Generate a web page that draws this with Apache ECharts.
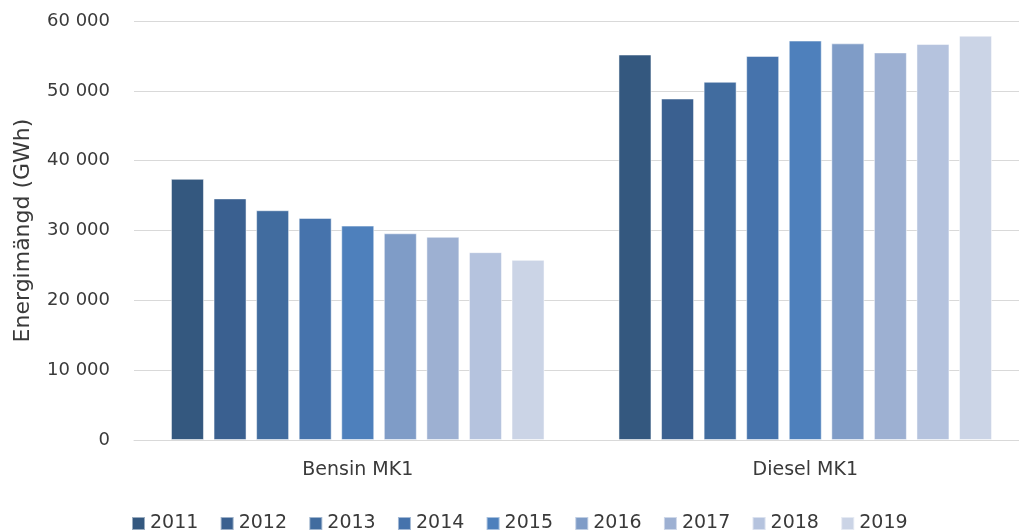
<!DOCTYPE html>
<html><head><meta charset="utf-8">
<script src="https://cdn.jsdelivr.net/npm/echarts@6/dist/echarts.min.js"></script>
<style>html,body{margin:0;padding:0;background:#fff}#c{width:1019px;height:532px}</style>
</head><body><div id="c"></div>
<script>
const categories = ['Bensin MK1', 'Diesel MK1'];
const years = ['2011','2012','2013','2014','2015','2016','2017','2018','2019'];
const v2011 = [37400, 55200];
const v2012 = [34600, 48900];
const v2013 = [32900, 51300];
const v2014 = [31800, 55000];
const v2015 = [30700, 57200];
const v2016 = [29600, 56800];
const v2017 = [29100, 55500];
const v2018 = [26900, 56700];
const v2019 = [25800, 57900];
const values = [v2011, v2012, v2013, v2014, v2015, v2016, v2017, v2018, v2019];
const colors = ['#34587F','#3A6090','#416C9F','#4673AC','#4E80BC','#7F9CC7','#9DB0D2','#B5C3DE','#CBD4E6'];
const yTicks = { min: 0, max: 60000, interval: 10000 };
const font = "'DejaVu Sans', sans-serif";
const txt = '#3a3a3a';

const chart = echarts.init(document.getElementById('c'), null, { renderer: 'canvas' });
chart.setOption({
  animation: false,
  textStyle: { fontFamily: font },
  grid: { left: 134, width: 895, top: 21, bottom: 92, containLabel: false, outerBoundsMode: 'none' },
  legend: {
    bottom: -6, left: 126,
    itemWidth: 13, itemHeight: 13, itemGap: 21.3,
    icon: 'rect',
    textStyle: { fontSize: 19, color: txt, fontFamily: font },
    data: years
  },
  xAxis: {
    type: 'category', data: categories,
    axisLine: { lineStyle: { color: '#d9d9d9', width: 1 } },
    axisTick: { show: false },
    axisLabel: { fontSize: 19, color: txt, margin: 21, fontFamily: font }
  },
  yAxis: {
    type: 'value', min: yTicks.min, max: yTicks.max, interval: yTicks.interval,
    name: 'Energimängd (GWh)', nameLocation: 'middle', nameGap: 100,
    nameTextStyle: { fontSize: 22, color: txt, fontFamily: font },
    axisLine: { show: false }, axisTick: { show: false },
    splitLine: { lineStyle: { color: '#d9d9d9', width: 1 } },
    axisLabel: {
      fontSize: 18, color: txt, margin: 24, fontFamily: font,
      formatter: v => String(v).replace(/\B(?=(\d{3})+(?!\d))/g, ' ')
    }
  },
  series: years.map((y, i) => ({
    name: y, type: 'bar', data: values[i],
    barWidth: 33, barGap: '29%',
    itemStyle: { color: colors[i], borderColor: 'rgba(255,255,255,0.5)', borderWidth: 1 }
  }))
});
</script></body></html>
